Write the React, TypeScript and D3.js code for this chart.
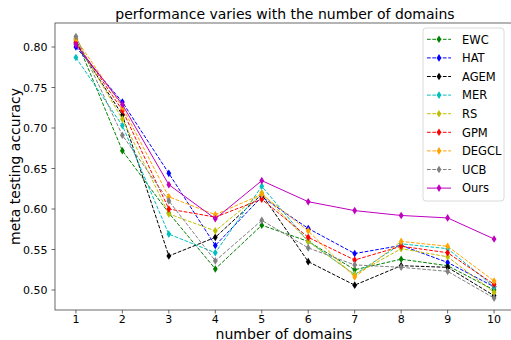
import { useEffect, useRef } from "react";
import * as d3 from "d3";

const domains = [1, 2, 3, 4, 5, 6, 7, 8, 9, 10];
const yTicks = [0.5, 0.55, 0.6, 0.65, 0.7, 0.75, 0.8];

const EWC = [0.81, 0.672, 0.595, 0.526, 0.58, 0.56, 0.525, 0.538, 0.53, 0.5];
const HAT = [0.8, 0.732, 0.644, 0.555, 0.615, 0.576, 0.545, 0.555, 0.534, 0.504];
const AGEM = [0.805, 0.716, 0.542, 0.565, 0.618, 0.535, 0.506, 0.53, 0.528, 0.493];
const MER = [0.787, 0.703, 0.569, 0.546, 0.628, 0.56, 0.519, 0.557, 0.551, 0.504];
const RS = [0.808, 0.711, 0.594, 0.573, 0.62, 0.56, 0.519, 0.551, 0.541, 0.497];
const GPM = [0.806, 0.722, 0.6, 0.59, 0.612, 0.565, 0.537, 0.554, 0.546, 0.507];
const DEGCL = [0.81, 0.726, 0.615, 0.593, 0.618, 0.573, 0.516, 0.56, 0.554, 0.511];
const UCB = [0.813, 0.691, 0.61, 0.536, 0.586, 0.552, 0.531, 0.528, 0.523, 0.49];
const Ours = [0.803, 0.729, 0.63, 0.588, 0.635, 0.609, 0.598, 0.592, 0.589, 0.563];

const series = [
  { name: "EWC", values: EWC, color: "#008000", dashed: true },
  { name: "HAT", values: HAT, color: "#0000ff", dashed: true },
  { name: "AGEM", values: AGEM, color: "#000000", dashed: true },
  { name: "MER", values: MER, color: "#00bfbf", dashed: true },
  { name: "RS", values: RS, color: "#bfbf00", dashed: true },
  { name: "GPM", values: GPM, color: "#ff0000", dashed: true },
  { name: "DEGCL", values: DEGCL, color: "#ffa500", dashed: true },
  { name: "UCB", values: UCB, color: "#808080", dashed: true },
  { name: "Ours", values: Ours, color: "#bf00bf", dashed: false },
];

const diamond = "M0,-3.8L2.4,0L0,3.8L-2.4,0Z";

export default function App() {
  const ref = useRef<SVGSVGElement>(null);

  useEffect(() => {
    document.body.style.margin = "0";
    if (!ref.current) return;
    const svg = d3.select(ref.current);
    svg.selectAll("*").remove();

    const width = 511;
    const height = 340;
    const left = 55, right = 515, top = 23, bottom = 310;
    const font = "DejaVu Sans, sans-serif";

    const x = d3.scaleLinear().domain([0.55, 10.45]).range([left, right]);
    const y = d3.scaleLinear().domain([0.5 - 20 / 810, 0.5 + 267 / 810]).range([bottom, top]);

    svg.append("rect").attr("width", width).attr("height", height).attr("fill", "#fff");

    // title
    svg.append("text")
      .attr("x", (left + right) / 2)
      .attr("y", 19)
      .attr("text-anchor", "middle")
      .attr("font-family", font)
      .attr("font-size", 14)
      .text("performance varies with the number of domains");

    const g = svg.append("g");

    const line = d3.line<number>()
      .x((_, i) => x(domains[i]))
      .y((d) => y(d));

    series.forEach((s) => {
      g.append("path")
        .datum(s.values)
        .attr("fill", "none")
        .attr("stroke", s.color)
        .attr("stroke-width", 1)
        .attr("stroke-dasharray", s.dashed ? "3.7,1.6" : null)
        .attr("d", line);
      g.selectAll(null)
        .data(s.values)
        .enter()
        .append("path")
        .attr("transform", (d, i) => `translate(${x(domains[i])},${y(d)})`)
        .attr("d", diamond)
        .attr("fill", s.color);
    });

    // spines
    svg.append("rect")
      .attr("x", left).attr("y", top)
      .attr("width", right - left).attr("height", bottom - top)
      .attr("fill", "none").attr("stroke", "#444").attr("stroke-width", 0.8);

    // x axis
    const xa = svg.append("g");
    domains.forEach((d) => {
      xa.append("line").attr("x1", x(d)).attr("x2", x(d)).attr("y1", bottom).attr("y2", bottom + 3.5)
        .attr("stroke", "#444").attr("stroke-width", 0.8);
      xa.append("text").attr("x", x(d)).attr("y", bottom + 12.5)
        .attr("text-anchor", "middle").attr("font-family", font).attr("font-size", 11)
        .text(d3.format("d")(d));
    });
    svg.append("text").attr("x", (left + right) / 2 - 1).attr("y", 338.5)
      .attr("text-anchor", "middle").attr("font-family", font).attr("font-size", 14)
      .text("number of domains");

    // y axis
    const ya = svg.append("g");
    yTicks.forEach((t) => {
      ya.append("line").attr("x1", left - 3.5).attr("x2", left).attr("y1", y(t)).attr("y2", y(t))
        .attr("stroke", "#444").attr("stroke-width", 0.8);
      ya.append("text").attr("x", left - 7.5).attr("y", y(t) + 4)
        .attr("text-anchor", "end").attr("font-family", font).attr("font-size", 11)
        .text(d3.format(".2f")(t));
    });
    svg.append("text")
      .attr("transform", `translate(20,${(top + bottom) / 2}) rotate(-90)`)
      .attr("text-anchor", "middle").attr("font-family", font).attr("font-size", 14)
      .text("meta testing accuracy");

    // legend
    const lx = 423, ly = 28, rowH = 18.6;
    const lg = svg.append("g");
    lg.append("rect")
      .attr("x", lx).attr("y", ly).attr("width", 81).attr("height", 173)
      .attr("rx", 3).attr("fill", "#fff").attr("fill-opacity", 0.8)
      .attr("stroke", "#d0d0d0").attr("stroke-width", 0.8);
    series.forEach((s, i) => {
      const cy = 39.3 + i * rowH;
      lg.append("line").attr("x1", lx + 4).attr("x2", lx + 28).attr("y1", cy).attr("y2", cy)
        .attr("stroke", s.color).attr("stroke-width", 1)
        .attr("stroke-dasharray", s.dashed ? "3.7,1.6" : null);
      lg.append("path").attr("transform", `translate(${lx + 16},${cy})`)
        .attr("d", diamond).attr("fill", s.color);
      lg.append("text").attr("x", lx + 39).attr("y", cy + 4.2)
        .attr("font-family", font).attr("font-size", 11.5).text(s.name);
    });
  }, []);

  return <svg ref={ref} width={511} height={340} style={{ display: "block" }} />;
}
